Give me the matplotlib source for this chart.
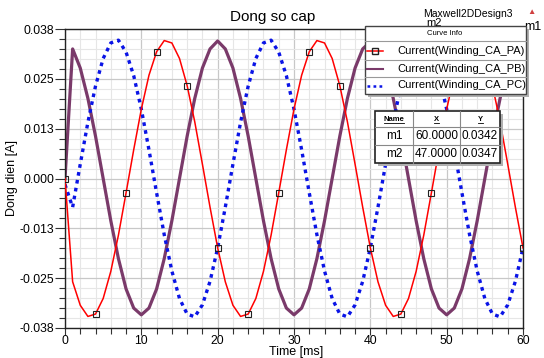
import matplotlib.pyplot as plt
from matplotlib.patches import Rectangle
from matplotlib.lines import Line2D

plt.rcParams['font.family'] = ['Liberation Sans', 'DejaVu Sans']

# dados (passo de 1 ms)
tempo = list(range(0, 61))

corrente_pa = [0.0,
               -0.0259, -0.0318, -0.0346, -0.0340, -0.0301, -0.0233, -0.0142, -0.0036, 0.0072, 0.0174,
               0.0259, 0.0318, 0.0346, 0.0340, 0.0301, 0.0233, 0.0142, 0.0036, -0.0072, -0.0174,
               -0.0259, -0.0318, -0.0346, -0.0340, -0.0301, -0.0233, -0.0142, -0.0036, 0.0072, 0.0174,
               0.0259, 0.0318, 0.0346, 0.0340, 0.0301, 0.0233, 0.0142, 0.0036, -0.0072, -0.0174,
               -0.0259, -0.0318, -0.0346, -0.0340, -0.0301, -0.0233, -0.0142, -0.0036, 0.0072, 0.0174,
               0.0259, 0.0318, 0.0346, 0.0340, 0.0301, 0.0233, 0.0142, 0.0036, -0.0072, -0.0174]

corrente_pb = [0.0,
               0.0325, 0.0277, 0.0201, 0.0106, 0.0, -0.0106, -0.0201, -0.0277, -0.0325, -0.0342,
               -0.0325, -0.0277, -0.0201, -0.0106, 0.0, 0.0106, 0.0201, 0.0277, 0.0325, 0.0345,
               0.0325, 0.0277, 0.0201, 0.0106, 0.0, -0.0106, -0.0201, -0.0277, -0.0325, -0.0342,
               -0.0325, -0.0277, -0.0201, -0.0106, 0.0, 0.0106, 0.0201, 0.0277, 0.0325, 0.0343,
               0.0325, 0.0277, 0.0201, 0.0106, 0.0, -0.0106, -0.0201, -0.0277, -0.0325, -0.0342,
               -0.0325, -0.0277, -0.0201, -0.0106, 0.0, 0.0106, 0.0201, 0.0277, 0.0325, 0.0342]

corrente_pc = [-0.0015,
               -0.0072, 0.0036, 0.0141, 0.0232, 0.0301, 0.0340, 0.0347, 0.0317, 0.0258, 0.0174,
               0.0072, -0.0036, -0.0141, -0.0232, -0.0301, -0.0340, -0.0347, -0.0317, -0.0258, -0.0174,
               -0.0072, 0.0036, 0.0141, 0.0232, 0.0301, 0.0340, 0.0347, 0.0317, 0.0258, 0.0174,
               0.0072, -0.0036, -0.0141, -0.0232, -0.0301, -0.0340, -0.0347, -0.0317, -0.0258, -0.0174,
               -0.0072, 0.0036, 0.0141, 0.0232, 0.0301, 0.0340, 0.0347, 0.0317, 0.0258, 0.0174,
               0.0072, -0.0036, -0.0141, -0.0232, -0.0301, -0.0340, -0.0347, -0.0317, -0.0258, -0.0174]

nomes = ['Current(Winding_CA_PA)', 'Current(Winding_CA_PB)', 'Current(Winding_CA_PC)']
yticks = [-0.0375, -0.025, -0.0125, 0.0, 0.0125, 0.025, 0.0375]
ylabels = ['-0.038', '-0.025', '-0.013', '0.000', '0.013', '0.025', '0.038']
marcadores = [['m1', '60.0000', '0.0342'], ['m2', '47.0000', '0.0347']]

W, H = 544, 358
fig = plt.figure(figsize=(W / 100, H / 100), dpi=100)


def fx(x):
    return x / W


def fy(y):
    return 1 - y / H


ax = fig.add_axes([fx(65), fy(328), fx(523) - fx(65), fy(29) - fy(328)])

ax.plot(tempo, corrente_pa, color='#ff0000', lw=1.1, marker='s', markevery=4,
        markersize=5, markerfacecolor='none', markeredgecolor='#222222', markeredgewidth=0.8, zorder=3)
ax.plot(tempo, corrente_pb, color='#7a3a6a', lw=2.3, zorder=2)
ax.plot(tempo, corrente_pc, color='#0a14e6', lw=2.4, linestyle=(0, (1.1, 1.3)), zorder=2)

ax.set_xlim(0, 60)
ax.set_ylim(-0.0375, 0.0375)
ax.set_xticks(range(0, 61, 10))
ax.set_xticks(range(0, 61, 2), minor=True)
ax.set_yticks(yticks)
ax.set_yticklabels(ylabels)
ax.set_yticks([i * 0.0025 - 0.0375 for i in range(31)], minor=True)
ax.grid(which='minor', color='#e6e6e6', lw=0.8)
ax.grid(which='major', color='#c8c8c8', lw=0.9)
ax.set_axisbelow(True)
ax.tick_params(which='major', length=7, width=0.8, labelsize=8.8, pad=1, color='#333333')
ax.tick_params(axis='x', which='major', length=5, pad=0)
ax.tick_params(which='minor', length=4, width=0.8, color='#333333')
for s in ax.spines.values():
    s.set_color('#222222')
    s.set_linewidth(1.0)

fig.text(fx(296), fy(351.5), 'Time [ms]', fontsize=9, ha='center', va='center')
ax.set_ylabel('Dong dien [A]', fontsize=9, labelpad=1)
fig.text(fx(273), fy(17), 'Dong so cap', fontsize=11, ha='center', va='center')
fig.text(fx(468), fy(14), 'Maxwell2DDesign3', fontsize=7.5, ha='center', va='center')
fig.text(fx(531), fy(13), '\u25B2', fontsize=6, color='#d04040', ha='center', va='center')
fig.text(fx(434), fy(23), 'm2', fontsize=8, ha='center', va='center')
fig.text(fx(533), fy(27), 'm1', fontsize=9, ha='center', va='center')

# caixa Curve Info
def caixa(x0, y0, x1, y1, **kw):
    fig.patches.append(Rectangle((fx(x0), fy(y1)), fx(x1) - fx(x0), fy(y0) - fy(y1),
                                 transform=fig.transFigure, **kw))


caixa(368, 29, 529, 97, facecolor='#b0b0b0', edgecolor='none', zorder=5)
caixa(365, 26, 526, 94, facecolor='white', edgecolor='#444444', lw=1.0, zorder=6)
fig.text(fx(445), fy(33.5), 'Curve Info', fontsize=5.5, ha='center', va='center', zorder=7)
linhas = [41, 60, 77]
for y in linhas:
    fig.lines.append(Line2D([fx(365), fx(526)], [fy(y), fy(y)], transform=fig.transFigure,
                            color='#999999', lw=0.8, zorder=7))
estilos = [dict(color='#ff0000', lw=1.1, marker='s', markersize=4, markerfacecolor='none',
                markeredgecolor='#222222', markevery=[1]),
           dict(color='#7a3a6a', lw=1.5),
           dict(color='#0a14e6', lw=1.8, linestyle=(0, (1.1, 1.3)))]
for i, nome in enumerate(nomes):
    yc = (linhas[i] + (linhas[i + 1] if i < 2 else 94)) / 2
    fig.lines.append(Line2D([fx(367), fx(375), fx(383)], [fy(yc)] * 3, transform=fig.transFigure,
                            zorder=8, **estilos[i]))
    fig.text(fx(397), fy(yc), nome, fontsize=8, ha='left', va='center', zorder=8)

# tabela de marcadores
caixa(378, 114, 503, 166, facecolor='#b0b0b0', edgecolor='none', zorder=5)
caixa(375, 111, 500, 163, facecolor='white', edgecolor='#222222', lw=1.2, zorder=6)
for x in [413, 460]:
    fig.lines.append(Line2D([fx(x), fx(x)], [fy(111), fy(163)], transform=fig.transFigure,
                            color='#888888', lw=0.8, zorder=7))
for y in [127, 145]:
    fig.lines.append(Line2D([fx(375), fx(500)], [fy(y), fy(y)], transform=fig.transFigure,
                            color='#888888', lw=0.8, zorder=7))
for x, h in zip([394, 436.5, 480], ['Name', 'X', 'Y']):
    fig.text(fx(x), fy(119), h, fontsize=5.5, ha='center', va='center', zorder=8,
             fontweight='bold')
    fig.lines.append(Line2D([fx(x - len(h) * 2.5), fx(x + len(h) * 2.5)], [fy(123.5)] * 2,
                            transform=fig.transFigure, color='black', lw=0.6, zorder=8))
for j, linha in enumerate(marcadores):
    yc = 136 + j * 18
    fig.text(fx(394), fy(yc), linha[0], fontsize=8.5, ha='center', va='center', zorder=8)
    fig.text(fx(436.5), fy(yc), linha[1], fontsize=8.5, ha='center', va='center', zorder=8)
    fig.text(fx(480), fy(yc), linha[2], fontsize=8.5, ha='center', va='center', zorder=8)

fig.savefig('out.png', dpi=100)
